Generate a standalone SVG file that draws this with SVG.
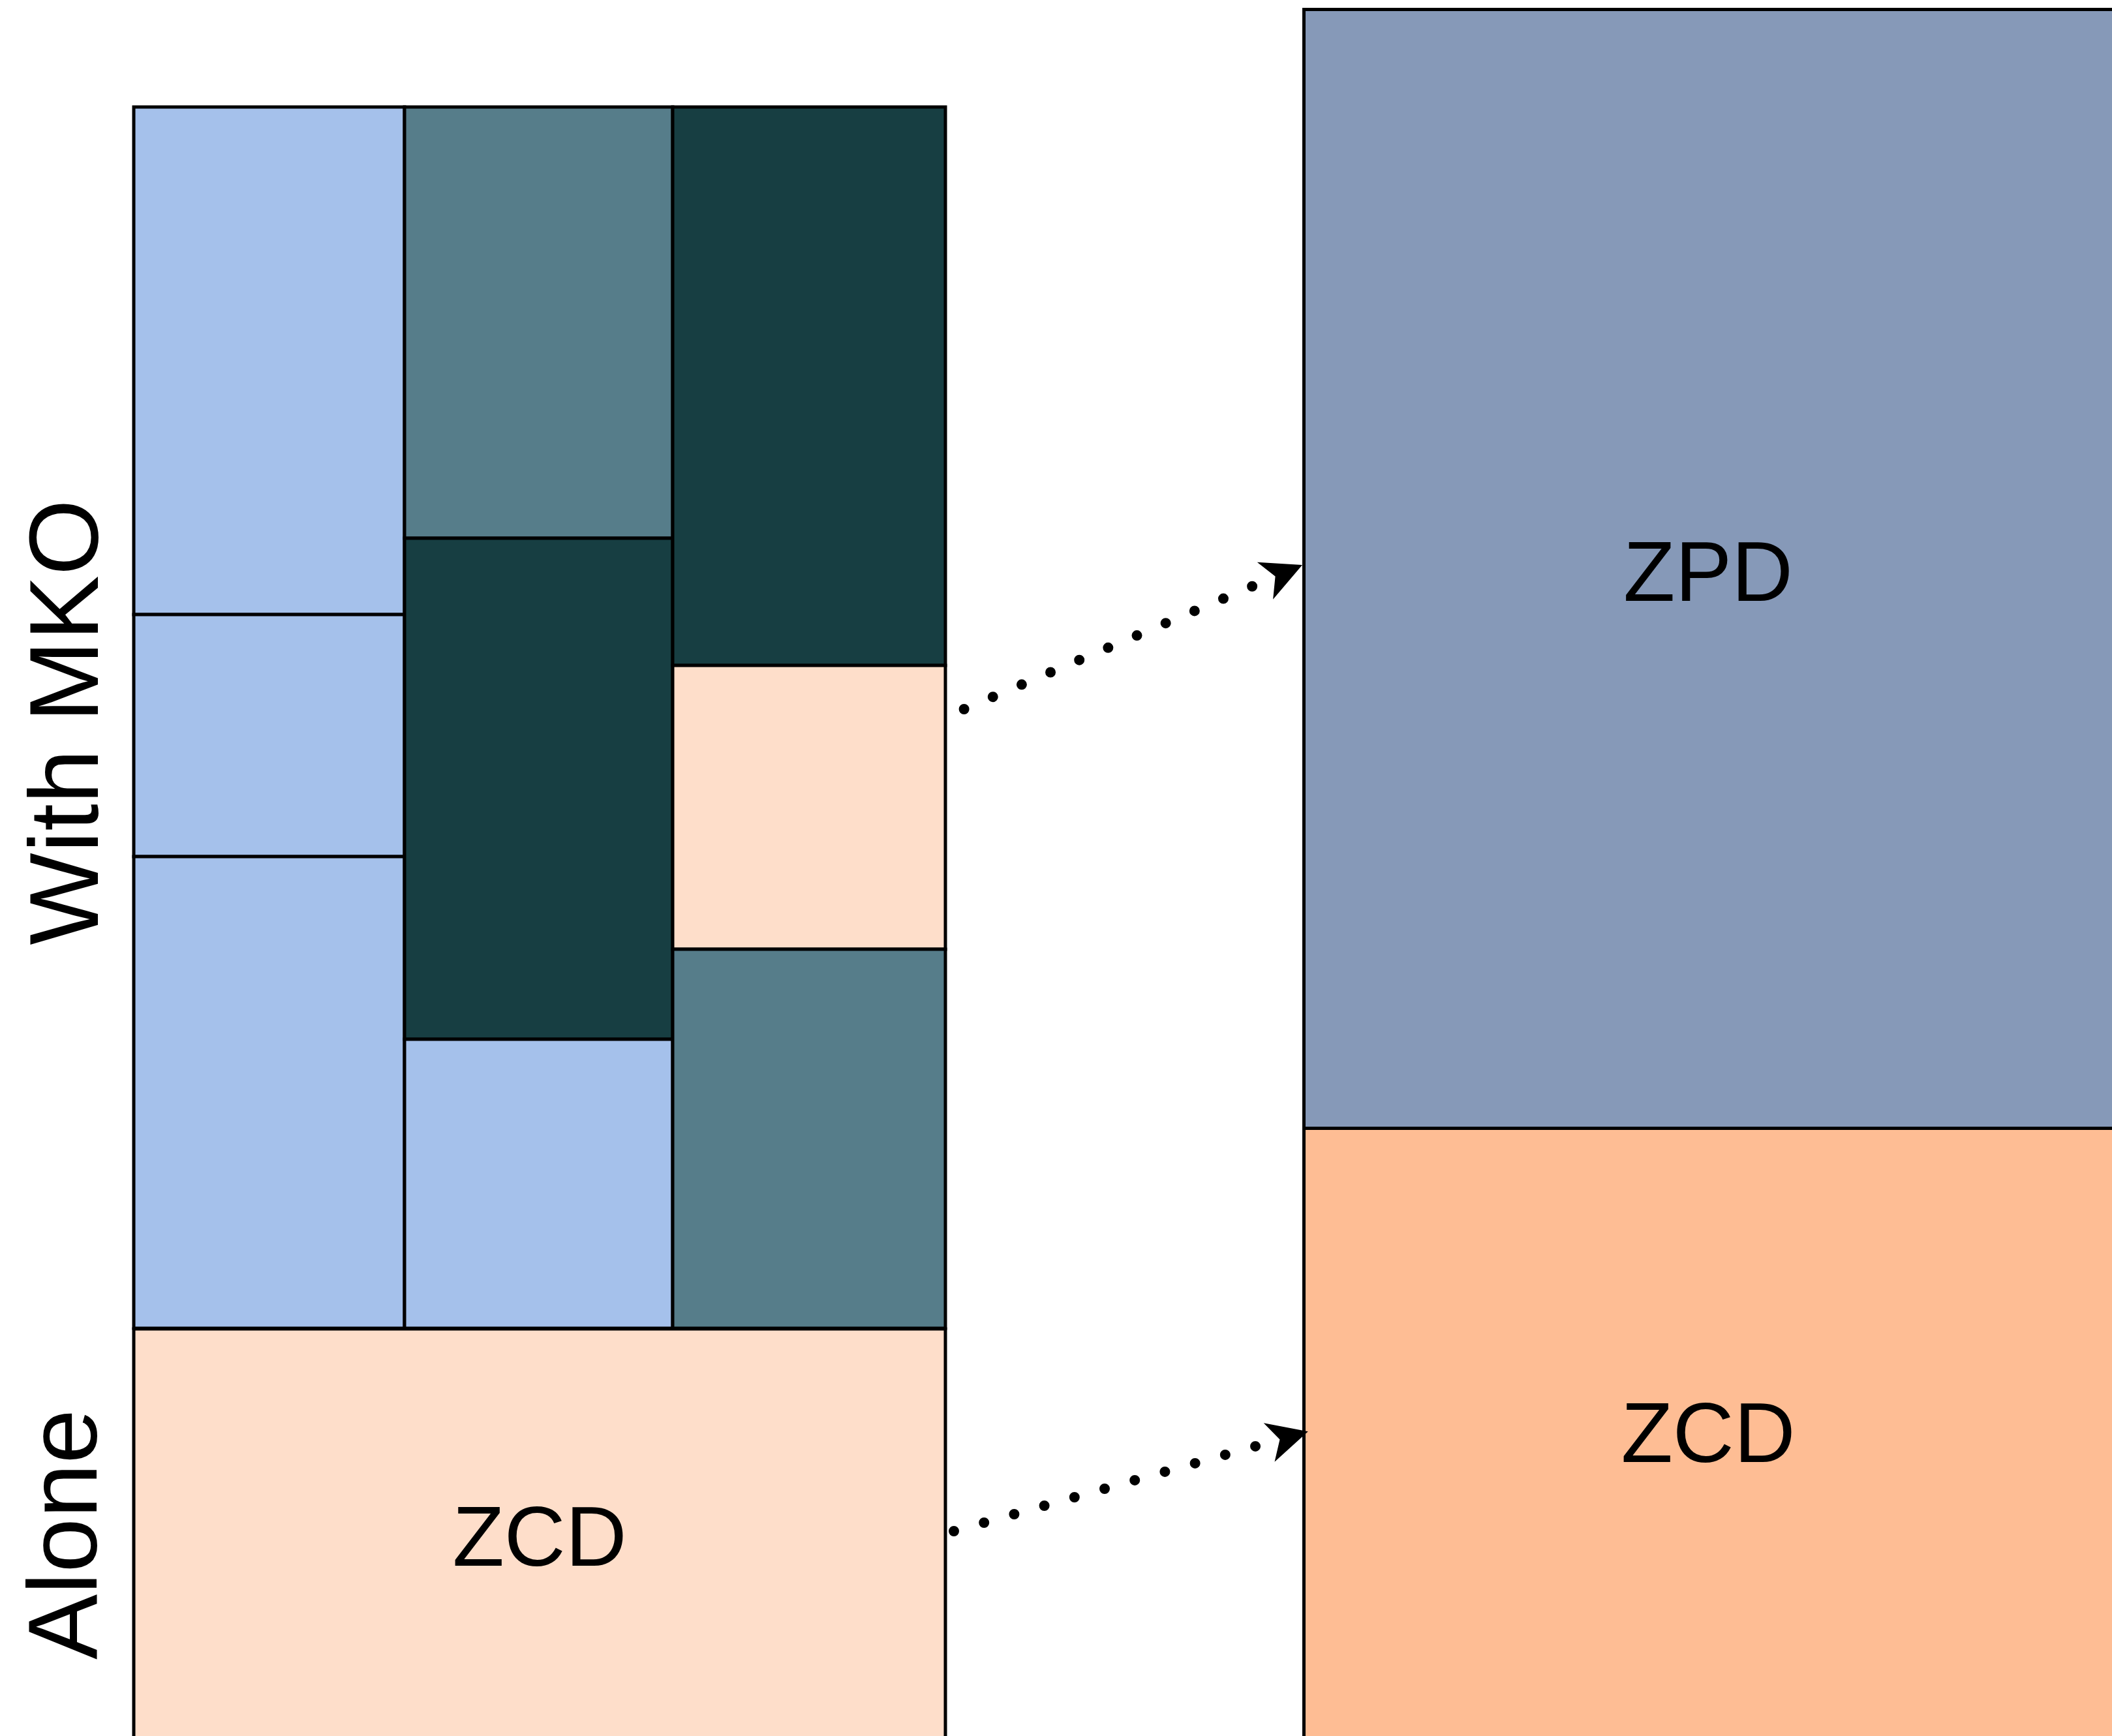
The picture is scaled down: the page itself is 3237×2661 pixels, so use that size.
<svg xmlns="http://www.w3.org/2000/svg" width="3237" height="2661" viewBox="0 0 3237 2661">
<style>
.cell{stroke:#000;stroke-width:5}
.lb{fill:#A5C1EB}
.tl{fill:#567D8A}
.dk{fill:#173E42}
.pc{fill:#FEDECA}
.zpd{fill:#8699B8}
.zcd{fill:#FEBD94}
.lbl{font-family:"Liberation Sans",Arial,Helvetica,sans-serif;font-size:130px;fill:#000;text-anchor:middle}
.side{font-family:"Liberation Sans",Arial,Helvetica,sans-serif;font-size:150px;fill:#000;text-anchor:middle}
.dots{fill:none;stroke:#000;stroke-width:16;stroke-linecap:round;stroke-dasharray:0 48}
</style>
<defs>
<marker id="arr" markerUnits="userSpaceOnUse" orient="auto" refX="0" refY="0" markerWidth="10" markerHeight="10" overflow="visible">
<path d="M45,0 L-17,-31 L0,0 L-17,31 Z" fill="#000"/>
</marker>
</defs>
<rect width="3237" height="2661" fill="#fff"/>
<g id="mko-col1">
<rect id="c1a" class="cell lb" x="205" y="164" width="415" height="778"/>
<rect id="c1b" class="cell lb" x="205" y="942" width="415" height="371"/>
<rect id="c1c" class="cell lb" x="205" y="1313" width="415" height="723"/>
</g>
<g id="mko-col2">
<rect id="c2a" class="cell tl" x="620" y="164" width="411" height="661"/>
<rect id="c2b" class="cell dk" x="620" y="825" width="411" height="768"/>
<rect id="c2c" class="cell lb" x="620" y="1593" width="411" height="443"/>
</g>
<g id="mko-col3">
<rect id="c3a" class="cell dk" x="1031" y="164" width="418" height="856"/>
<rect id="c3b" class="cell pc" x="1031" y="1020" width="418" height="435"/>
<rect id="c3c" class="cell tl" x="1031" y="1455" width="418" height="581"/>
</g>
<g id="alone-zcd">
<rect class="cell pc" x="205" y="2037" width="1244" height="640"/>
<text class="lbl" x="827" y="2400">ZCD</text>
</g>
<g id="zpd">
<rect class="cell zpd" x="1998.5" y="14.5" width="1250" height="1715"/>
<text class="lbl" x="2618" y="921">ZPD</text>
</g>
<g id="zcd">
<rect class="cell zcd" x="1998.5" y="1729.5" width="1250" height="960"/>
<text class="lbl" x="2618" y="2241">ZCD</text>
</g>
<g id="labels">
<text class="side" transform="translate(150,1107) rotate(-90)">With MKO</text>
<text class="side" transform="translate(148,2352) rotate(-90)">Alone</text>
</g>
<g id="connectors">
<path class="dots" d="M1477.6,1087 L1954.6,883.6" marker-end="url(#arr)"/>
<path class="dots" d="M1462,2347 L1961.5,2206.4" marker-end="url(#arr)"/>
</g>
</svg>
